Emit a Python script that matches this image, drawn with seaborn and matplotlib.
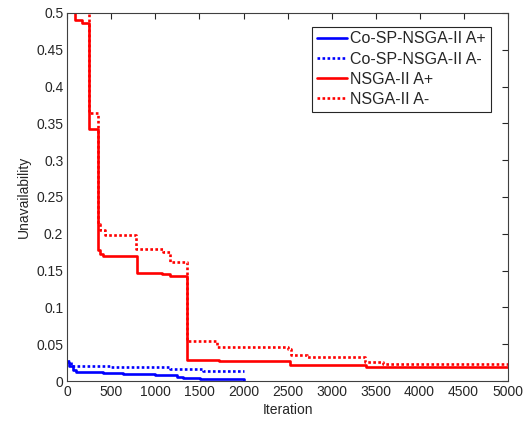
import numpy as np
import pandas as pd
import matplotlib
matplotlib.use("Agg")
import matplotlib.pyplot as plt
import seaborn as sns

sns.set_style("white")
plt.rcParams['font.family'] = ['Liberation Sans', 'DejaVu Sans']

# Data
cosp_plus_iter = [0, 20, 68, 100, 400, 636, 1000, 1167, 1250, 1318, 1400, 1508, 2000]
cosp_plus_val = [0.026, 0.020, 0.015, 0.0127, 0.011, 0.0095, 0.0085, 0.0077, 0.006, 0.0045, 0.0035, 0.0023, 0.002]

cosp_minus_iter = [0, 40, 500, 1167, 1545, 2000]
cosp_minus_val = [0.027, 0.0204, 0.0186, 0.016, 0.0136, 0.0136]

nsga_plus_iter = [0, 88, 164, 240, 350, 370, 408, 788, 1072, 1167, 1360, 1716, 2530, 3394, 5000]
nsga_plus_val = [0.52, 0.490, 0.487, 0.342, 0.178, 0.172, 0.170, 0.147, 0.146, 0.142, 0.0285, 0.0267, 0.0213, 0.0186, 0.0186]

nsga_minus_iter = [0, 245, 352, 372, 428, 781, 1091, 1160, 1360, 1697, 2470, 2500, 2540, 2720, 3383, 3590, 5000]
nsga_minus_val = [0.52, 0.364, 0.213, 0.205, 0.199, 0.179, 0.1757, 0.162, 0.0543, 0.0466, 0.0466, 0.043, 0.0353, 0.033, 0.0258, 0.0227, 0.0227]

series = [
    ("Co-SP-NSGA-II A+", cosp_plus_iter, cosp_plus_val, "#0000FF", "-"),
    ("Co-SP-NSGA-II A-", cosp_minus_iter, cosp_minus_val, "#0000FF", (0, (1, 0.9))),
    ("NSGA-II A+", nsga_plus_iter, nsga_plus_val, "#FF0000", "-"),
    ("NSGA-II A-", nsga_minus_iter, nsga_minus_val, "#FF0000", (0, (1, 0.9))),
]

fig = plt.figure(figsize=(5.31, 4.32), dpi=100)
ax = fig.add_axes([0.127, 0.118, 0.829, 0.852])

for name, xs, ys, col, ls in series:
    df = pd.DataFrame({"Iteration": xs, "Unavailability": ys})
    sns.lineplot(data=df, x="Iteration", y="Unavailability", ax=ax, color=col,
                 linestyle=ls, linewidth=1.9, drawstyle="steps-post",
                 estimator=None, label=name, sort=False)

ax.set_xlim(0, 5000)
ax.set_ylim(0, 0.5)
ax.set_xticks(np.arange(0, 5001, 500))
ax.set_yticks(np.arange(0, 0.501, 0.05))
ax.set_yticklabels(["0", "0.05", "0.1", "0.15", "0.2", "0.25", "0.3", "0.35", "0.4", "0.45", "0.5"])
ax.set_xticklabels([str(v) for v in range(0, 5001, 500)])
ax.tick_params(direction="in", top=True, right=True, length=4, width=0.8,
               colors="#262626", labelsize=10, pad=3)
for sp in ax.spines.values():
    sp.set_visible(True)
    sp.set_color("#404040")
    sp.set_linewidth(0.8)
ax.set_xlabel("Iteration", fontsize=10, color="#262626", labelpad=3)
ax.set_ylabel("Unavailability", fontsize=10, color="#262626", labelpad=4)

leg = ax.legend(loc="upper right", bbox_to_anchor=(0.9614, 0.9628), fontsize=11.5,
                frameon=True, fancybox=False, edgecolor="#262626", framealpha=1,
                handlelength=1.9, handletextpad=0.2, labelspacing=0.32,
                borderpad=0.3, borderaxespad=0)
leg.get_frame().set_linewidth(0.8)

fig.savefig("out.png", dpi=100)
